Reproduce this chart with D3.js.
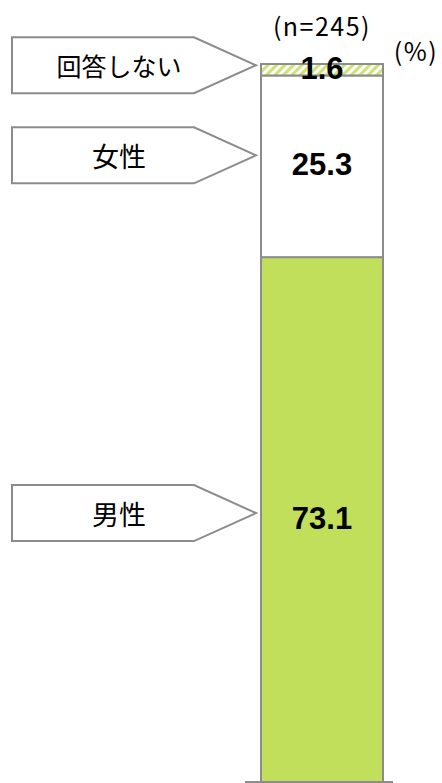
<!DOCTYPE html>
<html lang="ja">
<head>
<meta charset="utf-8">
<script src="https://cdn.jsdelivr.net/npm/d3@7"></script>
<style>
  html, body { margin: 0; padding: 0; background: #fff; }
  svg { display: block; }
</style>
</head>
<body>
<svg id="chart" width="442" height="783"></svg>
<script>
// Respondent gender breakdown (%), stacked from the bottom up
const categories = ["男性", "女性", "回答しない"];
const values = [73.1, 25.3, 1.6];
const valueLabels = ["73.1", "25.3", "1.6"];
const sampleLabel = "(n=245)";
const unitLabel = "(%)";

const svg = d3.select("#chart");

const y = d3.scaleLinear().domain([0, 100]).range([782, 64]);
const x = d3.scaleBand().domain(["全体"]).range([261, 383]).padding(0);

// stacked segments
let acc = 0;
const segs = categories.map((c, i) => {
  const s = { cat: c, v: values[i], label: valueLabels[i], y0: acc, y1: acc + values[i] };
  acc += values[i];
  return s;
});

const fills = { "男性": "#c2df5c", "女性": "#ffffff", "回答しない": "url(#hatch)" };

const defs = svg.append("defs");
const pat = defs.append("pattern")
  .attr("id", "hatch")
  .attr("patternUnits", "userSpaceOnUse")
  .attr("width", 6).attr("height", 6)
  .attr("patternTransform", "rotate(45)");
pat.append("rect").attr("width", 6).attr("height", 6).attr("fill", "#fbfdf0");
pat.append("rect").attr("width", 3).attr("height", 6).attr("fill", "#cfe07e");

svg.append("g").selectAll("rect")
  .data(segs)
  .join("rect")
  .attr("x", x("全体"))
  .attr("width", x.bandwidth())
  .attr("y", d => y(d.y1))
  .attr("height", d => y(d.y0) - y(d.y1))
  .attr("fill", d => fills[d.cat])
  .attr("stroke", "#8c8c8c")
  .attr("stroke-width", 2);

// baseline
svg.append("line")
  .attr("x1", 245).attr("x2", 393)
  .attr("y1", y(0)).attr("y2", y(0))
  .attr("stroke", "#8c8c8c").attr("stroke-width", 2);

// value labels
const labelShift = { "男性": -1, "女性": -2, "回答しない": -1.5 };
svg.append("g").selectAll("text")
  .data(segs)
  .join("text")
  .attr("x", x("全体") + x.bandwidth() / 2)
  .attr("y", d => y((d.y0 + d.y1) / 2) + labelShift[d.cat])
  .attr("text-anchor", "middle")
  .attr("dominant-baseline", "central")
  .attr("font-family", "'Liberation Sans', Arial, sans-serif")
  .attr("font-weight", "bold")
  .attr("font-size", 31)
  .attr("fill", "#000")
  .text(d => d.label);

// arrow-shaped callouts pointing at each segment
const calloutTipOffset = { "男性": -6.5, "女性": -11, "回答しない": -4.5 };
const calloutFont = { "男性": 27, "女性": 27, "回答しない": 25 };
const boxL = 12, boxR = 194, tipX = 256, half = 28;
const callouts = svg.append("g").selectAll("g")
  .data(segs)
  .join("g")
  .attr("transform", d => `translate(0,${y((d.y0 + d.y1) / 2) + calloutTipOffset[d.cat]})`);

callouts.append("path")
  .attr("d", `M${boxL},${-half}H${boxR}L${tipX},0L${boxR},${half}H${boxL}Z`)
  .attr("fill", "#fff")
  .attr("stroke", "#8c8c8c")
  .attr("stroke-width", 2);

callouts.append("text")
  .attr("x", 119)
  .attr("y", 0)
  .attr("text-anchor", "middle")
  .attr("dominant-baseline", "central")
  .attr("font-family", "'Noto Sans CJK JP', sans-serif")
  .attr("font-size", d => calloutFont[d.cat])
  .attr("fill", "#000")
  .text(d => d.cat);

// sample size and unit
svg.append("text")
  .attr("x", 322).attr("y", 25)
  .attr("text-anchor", "middle")
  .attr("dominant-baseline", "central")
  .attr("font-family", "'Noto Sans CJK JP', sans-serif")
  .attr("font-size", 25)
  .attr("letter-spacing", 1.5)
  .attr("fill", "#000")
  .text(sampleLabel);

svg.append("text")
  .attr("x", 416).attr("y", 50)
  .attr("text-anchor", "middle")
  .attr("dominant-baseline", "central")
  .attr("font-family", "'Noto Sans CJK JP', sans-serif")
  .attr("font-size", 25)
  .attr("letter-spacing", 1.5)
  .attr("fill", "#000")
  .text(unitLabel);
</script>
</body>
</html>
